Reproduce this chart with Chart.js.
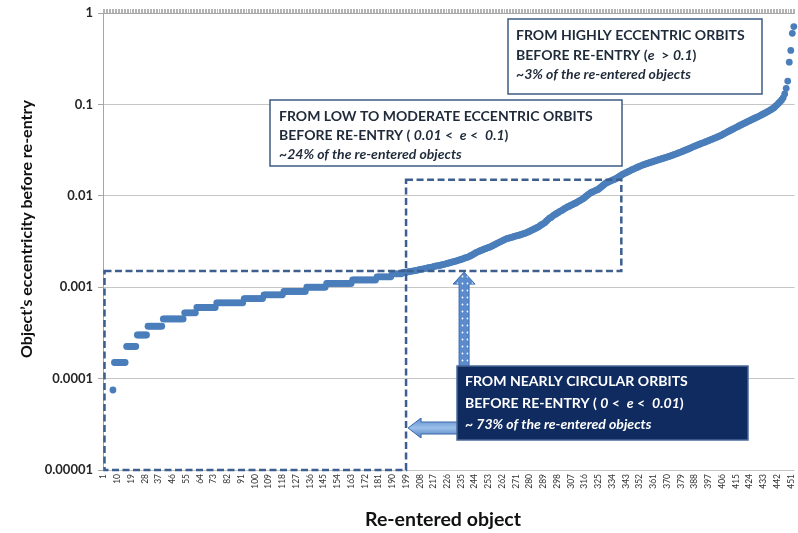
<!DOCTYPE html>
<html>
<head>
<meta charset="utf-8">
<script src="https://cdn.jsdelivr.net/npm/chart.js@4.4.0/dist/chart.umd.min.js"></script>
<style>
  html, body { margin: 0; padding: 0; background: #ffffff; }
  #wrap { width: 798px; height: 533px; }
</style>
</head>
<body>
<div id="wrap"><canvas id="chart" width="798" height="533"></canvas></div>
<script>
// Re-entered objects, sorted by eccentricity before re-entry
const objectCount = 453;
const labelStep = 9;
const objectNumbers = Array.from({ length: objectCount }, (_, i) => String(i + 1));

const yTickValues = [0.00001, 0.0001, 0.001, 0.01, 0.1, 1];
const yTickLabels = ['0.00001', '0.0001', '0.001', '0.01', '0.1', '1'];

// objects 1-317 : e < 0.01 (first six are exactly circular, not shown on a log axis)
const eccNearlyCircular = [
  null, null, null, null, null, null,
  0.000075,
  0.00015, 0.00015, 0.00015, 0.00015, 0.00015, 0.00015, 0.00015, 0.00015,
  0.000225, 0.000225, 0.000225, 0.000225, 0.000225, 0.000225, 0.000225,
  0.0003, 0.0003, 0.0003, 0.0003, 0.0003, 0.0003, 0.0003,
  0.000375, 0.000375, 0.000375, 0.000375, 0.000375, 0.000375, 0.000375, 0.000375, 0.000375, 0.000375,
  0.00045, 0.00045, 0.00045, 0.00045, 0.00045, 0.00045, 0.00045, 0.00045, 0.00045, 0.00045, 0.00045, 0.00045, 0.00045, 0.00045,
  0.000525, 0.000525, 0.000525, 0.000525, 0.000525, 0.000525, 0.000525, 0.000525,
  0.0006, 0.0006, 0.0006, 0.0006, 0.0006, 0.0006, 0.0006, 0.0006, 0.0006, 0.0006, 0.0006, 0.0006, 0.0006,
  0.000675, 0.000675, 0.000675, 0.000675, 0.000675, 0.000675, 0.000675, 0.000675, 0.000675,
  0.000675, 0.000675, 0.000675, 0.000675, 0.000675, 0.000675, 0.000675, 0.000675, 0.000675,
  0.00075, 0.00075, 0.00075, 0.00075, 0.00075, 0.00075, 0.00075, 0.00075, 0.00075, 0.00075, 0.00075, 0.00075, 0.00075,
  0.000825, 0.000825, 0.000825, 0.000825, 0.000825, 0.000825, 0.000825, 0.000825, 0.000825, 0.000825, 0.000825, 0.000825, 0.000825,
  0.0009, 0.0009, 0.0009, 0.0009, 0.0009, 0.0009, 0.0009, 0.0009, 0.0009, 0.0009, 0.0009, 0.0009, 0.0009, 0.0009, 0.0009,
  0.001, 0.001, 0.001, 0.001, 0.001, 0.001, 0.001, 0.001, 0.001, 0.001, 0.001, 0.001, 0.001,
  0.0011, 0.0011, 0.0011, 0.0011, 0.0011, 0.0011, 0.0011, 0.0011, 0.0011, 0.0011, 0.0011, 0.0011, 0.0011, 0.0011, 0.0011, 0.0011, 0.0011,
  0.0012, 0.0012, 0.0012, 0.0012, 0.0012, 0.0012, 0.0012, 0.0012, 0.0012, 0.0012, 0.0012, 0.0012, 0.0012, 0.0012, 0.0012, 0.0012,
  0.0013, 0.0013, 0.0013, 0.0013, 0.0013, 0.0013, 0.0013, 0.0013, 0.0013, 0.0013,
  0.0014, 0.0014, 0.0014, 0.0014, 0.0014, 0.0014, 0.0014,
  0.00145, 0.00146, 0.00146,
  0.00147, 0.00148, 0.00149, 0.0015, 0.00151, 0.00152, 0.00153, 0.00155, 0.00156, 0.00158,
  0.00158, 0.0016, 0.00161, 0.00163, 0.00164, 0.00165, 0.00166, 0.00168, 0.0017, 0.00171,
  0.00172, 0.00173, 0.00175, 0.00177, 0.00178, 0.0018, 0.00182, 0.00184, 0.00186, 0.00188,
  0.0019, 0.00192, 0.00194, 0.00197, 0.00199, 0.00201, 0.00204, 0.00207, 0.0021, 0.00212,
  0.00215, 0.0022, 0.00224, 0.00229, 0.00234, 0.0024, 0.00244, 0.00248, 0.00252, 0.00256,
  0.0026, 0.00264, 0.00268, 0.00272, 0.00276, 0.0028, 0.00286, 0.00292, 0.00298, 0.00304,
  0.0031, 0.00316, 0.00322, 0.00328, 0.00334, 0.0034, 0.00343, 0.00347, 0.0035, 0.00355,
  0.0036, 0.00363, 0.00367, 0.0037, 0.00375, 0.0038, 0.00385, 0.0039, 0.00396, 0.00403,
  0.0041, 0.00418, 0.00426, 0.00434, 0.00442, 0.0045, 0.00461, 0.00473, 0.00485, 0.00497,
  0.0051, 0.0053, 0.0055, 0.0057, 0.0058, 0.006, 0.0062, 0.0063, 0.0065, 0.0066,
  0.0068, 0.0069, 0.0071, 0.0073, 0.0074, 0.0076, 0.0077, 0.0079, 0.008, 0.0082,
  0.0083, 0.0085, 0.0087, 0.0089, 0.0091, 0.0093, 0.0096, 0.0099
];

// objects 318-442 : 0.01 < e < 0.1
const eccModerate = [
  0.0102, 0.0105,
  0.0108, 0.011, 0.0112, 0.0114, 0.0116, 0.0118, 0.0122, 0.0126, 0.013, 0.0134,
  0.0138, 0.014, 0.0143, 0.0145, 0.0148, 0.015, 0.0153, 0.0156, 0.016, 0.0164,
  0.0168, 0.0172, 0.0175, 0.0179, 0.0182, 0.0186, 0.0189, 0.0193, 0.0196, 0.02,
  0.0203, 0.0207, 0.021, 0.0214, 0.0217, 0.022, 0.0223, 0.0226, 0.0229, 0.0232,
  0.0235, 0.0238, 0.0241, 0.0244, 0.0247, 0.025, 0.0253, 0.0256, 0.0259, 0.0262,
  0.0265, 0.0269, 0.0272, 0.0276, 0.028, 0.0284, 0.0288, 0.0292, 0.0297, 0.0301,
  0.0306, 0.0311, 0.0316, 0.0321, 0.0326, 0.0332, 0.0337, 0.0343, 0.0349, 0.0354,
  0.036, 0.0366, 0.0371, 0.0377, 0.0382, 0.0388, 0.0394, 0.04, 0.0407, 0.0413,
  0.042, 0.0427, 0.0434, 0.0441, 0.0448, 0.0455, 0.0465, 0.0475, 0.0485, 0.0495,
  0.0505, 0.0515, 0.0526, 0.0536, 0.0547, 0.0558, 0.0569, 0.058, 0.0592, 0.0603,
  0.0615, 0.0627, 0.0639, 0.0651, 0.0663, 0.0675, 0.0688, 0.0701, 0.0714, 0.0727,
  0.074, 0.0755, 0.077, 0.0786, 0.0802, 0.082, 0.0838, 0.0857, 0.0876, 0.0897,
  0.092, 0.0955, 0.099
];

// objects 443-453 : e > 0.1
const eccHigh = [0.103, 0.107, 0.112, 0.118, 0.13, 0.15, 0.18, 0.29, 0.39, 0.6, 0.71];

const eccentricity = [...eccNearlyCircular, ...eccModerate, ...eccHigh];

const FONT = 'Lato, "Open Sans", sans-serif';
const BOX_BORDER = '#3d5b84';
const DASH_COLOR = '#3d5f8f';
const TEXT_DARK = '#1f2b3a';

function fontFor(style, size) { return `${style} ${size}px ${FONT}`; }

function fitSize(ctx, text, style, target) {
  ctx.font = fontFor(style, 20);
  return 20 * target / ctx.measureText(text).width;
}

// draw one line made of upright / italic runs, all bold
function drawRuns(ctx, runs, x, y, size, color) {
  ctx.fillStyle = color;
  ctx.textBaseline = 'middle';
  ctx.textAlign = 'left';
  let cx = x;
  runs.forEach(([text, italic]) => {
    ctx.font = fontFor(italic ? 'italic bold' : 'bold', size);
    ctx.fillText(text, cx, y);
    cx += ctx.measureText(text).width;
  });
}

function textBox(ctx, box, lines, fill, border, color, fitText, fitWidth) {
  ctx.save();
  ctx.fillStyle = fill;
  ctx.fillRect(box.x, box.y, box.w, box.h);
  ctx.strokeStyle = border;
  ctx.lineWidth = 1.5;
  ctx.strokeRect(box.x, box.y, box.w, box.h);
  const size = fitSize(ctx, fitText, 'bold', fitWidth);
  lines.forEach((ln) => drawRuns(ctx, ln.runs, box.tx, ln.y, size, color));
  ctx.restore();
}

function dottedPattern(ctx) {
  const c = document.createElement('canvas');
  c.width = 5; c.height = 7;
  const p = c.getContext('2d');
  p.fillStyle = '#5a8bcc';
  p.fillRect(0, 0, 5, 7);
  p.fillStyle = '#ffffff';
  p.beginPath();
  p.arc(2.5, 3.5, 0.9, 0, Math.PI * 2);
  p.fill();
  return ctx.createPattern(c, 'repeat');
}

const annotationPlugin = {
  id: 'eccentricityBands',
  afterDatasetsDraw(chart) {
    const { ctx, chartArea: a, scales: { x, y } } = chart;
    const catX = (n) => x.getPixelForValue(n - 1);

    ctx.save();
    // dashed outlines of the e < 0.01 and 0.01 < e < 0.1 regions
    ctx.strokeStyle = DASH_COLOR;
    ctx.lineWidth = 2.5;
    ctx.setLineDash([7, 3.5]);
    const r1 = { l: a.left + 1.5, r: catX(199), t: y.getPixelForValue(0.0015), b: a.bottom };
    ctx.strokeRect(r1.l, r1.t, r1.r - r1.l, r1.b - r1.t);
    const r2 = { l: catX(199), r: catX(340), t: y.getPixelForValue(0.015), b: y.getPixelForValue(0.0015) };
    ctx.strokeRect(r2.l, r2.t, r2.r - r2.l, r2.b - r2.t);
    ctx.setLineDash([]);

    // upward arrow from the circular-orbit note to the moderate region
    const ax = catX(237);
    const tipY = r2.b + 1;
    const tailY = 366;
    ctx.beginPath();
    ctx.moveTo(ax, tipY);
    ctx.lineTo(ax + 11, tipY + 12);
    ctx.lineTo(ax + 5, tipY + 12);
    ctx.lineTo(ax + 5, tailY);
    ctx.lineTo(ax - 5, tailY);
    ctx.lineTo(ax - 5, tipY + 12);
    ctx.lineTo(ax - 11, tipY + 12);
    ctx.closePath();
    ctx.fillStyle = dottedPattern(ctx);
    ctx.fill();
    ctx.strokeStyle = '#3e6db0';
    ctx.lineWidth = 1;
    ctx.stroke();

    // leftward arrow to the circular-orbit region
    const lx = r1.r + 2;
    const ly = 428;
    const grad = ctx.createLinearGradient(0, ly - 10, 0, ly + 10);
    grad.addColorStop(0, '#5b8bcf');
    grad.addColorStop(0.5, '#9cc0ea');
    grad.addColorStop(1, '#4a7bbf');
    ctx.beginPath();
    ctx.moveTo(lx, ly);
    ctx.lineTo(lx + 13, ly - 10);
    ctx.lineTo(lx + 13, ly - 6);
    ctx.lineTo(458, ly - 6);
    ctx.lineTo(458, ly + 6);
    ctx.lineTo(lx + 13, ly + 6);
    ctx.lineTo(lx + 13, ly + 10);
    ctx.closePath();
    ctx.fillStyle = grad;
    ctx.fill();
    ctx.strokeStyle = '#3a68a8';
    ctx.stroke();
    ctx.restore();

    // notes
    textBox(ctx, { x: 508, y: 19, w: 254, h: 75, tx: 516 }, [
      { y: 35, runs: [['FROM HIGHLY ECCENTRIC ORBITS', false]] },
      { y: 55, runs: [['BEFORE RE-ENTRY (', false], ['e', true], ['  > ', false], ['0.1', true], [')', false]] },
      { y: 74, runs: [['~3% of the re-entered objects', true]] }
    ], '#ffffff', BOX_BORDER, TEXT_DARK, 'FROM HIGHLY ECCENTRIC ORBITS', 229);

    textBox(ctx, { x: 270, y: 100, w: 352, h: 66, tx: 279 }, [
      { y: 116, runs: [['FROM LOW TO MODERATE ECCENTRIC ORBITS', false]] },
      { y: 135, runs: [['BEFORE RE-ENTRY ( ', false], ['0.01', true], [' <  ', false], ['e', true], [' <  ', false], ['0.1', true], [')', false]] },
      { y: 154, runs: [['~24% of the re-entered objects', true]] }
    ], '#ffffff', BOX_BORDER, TEXT_DARK, 'FROM LOW TO MODERATE ECCENTRIC ORBITS', 314);

    textBox(ctx, { x: 457, y: 366, w: 291, h: 74, tx: 465 }, [
      { y: 381, runs: [['FROM NEARLY CIRCULAR ORBITS', false]] },
      { y: 403, runs: [['BEFORE RE-ENTRY ( ', false], ['0', true], [' <  ', false], ['e', true], [' <  ', false], ['0.01', true], [')', false]] },
      { y: 424, runs: [['~ 73% of the re-entered objects', true]] }
    ], '#0f2b5f', '#4a6a98', '#ffffff', 'FROM NEARLY CIRCULAR ORBITS', 223);
  }
};

const axisTitlePlugin = {
  id: 'axisTitles',
  afterDraw(chart) {
    const { ctx } = chart;
    ctx.save();
    ctx.fillStyle = '#111111';
    ctx.textAlign = 'center';
    ctx.textBaseline = 'middle';
    const yt = 'Object\u2019s eccentricity before re-entry';
    ctx.font = fontFor('bold', fitSize(ctx, yt, 'bold', 258));
    ctx.translate(27, 229);
    ctx.rotate(-Math.PI / 2);
    ctx.fillText(yt, 0, 0);
    ctx.restore();

    ctx.save();
    ctx.fillStyle = '#111111';
    ctx.textAlign = 'center';
    ctx.textBaseline = 'middle';
    const xt = 'Re-entered object';
    ctx.font = fontFor('bold', fitSize(ctx, xt, 'bold', 156));
    ctx.fillText(xt, 443, 520);
    ctx.restore();
  }
};

// keep the horizontal axes flush with the plot edges
function flushHorizontal(scale, height) {
  scale.height = height;
  scale.paddingLeft = 0;
  scale.paddingRight = 0;
}

new Chart(document.getElementById('chart'), {
  type: 'line',
  data: {
    labels: objectNumbers,
    datasets: [{
      data: eccentricity,
      showLine: false,
      pointRadius: 3.4,
      pointHoverRadius: 3.4,
      pointBorderWidth: 0,
      pointBackgroundColor: '#4a7ebb',
      pointBorderColor: '#4a7ebb'
    }]
  },
  options: {
    responsive: false,
    animation: false,
    devicePixelRatio: 1,
    layout: { padding: { top: 0, right: 1, left: 0, bottom: 0 } },
    plugins: { legend: { display: false }, tooltip: { enabled: false } },
    scales: {
      x: {
        type: 'category',
        offset: true,
        grid: { display: false, drawTicks: false },
        border: { display: false },
        ticks: {
          autoSkip: false,
          minRotation: 90,
          maxRotation: 90,
          padding: 4,
          color: '#333333',
          font: { family: FONT, size: 8.5 },
          callback(value, index) {
            return index % labelStep === 0 ? this.getLabelForValue(value) : '';
          }
        },
        afterFit(scale) { flushHorizontal(scale, 63); }
      },
      xTop: {
        type: 'category',
        position: 'top',
        offset: true,
        grid: { display: true, offset: true, drawOnChartArea: false, drawTicks: true, tickLength: 4, color: '#b4b4b4' },
        border: { display: true, color: '#a6a6a6' },
        ticks: { display: false },
        afterFit(scale) { flushHorizontal(scale, 13); }
      },
      y: {
        type: 'logarithmic',
        min: 0.00001,
        max: 1,
        afterBuildTicks(scale) { scale.ticks = yTickValues.map((v) => ({ value: v })); },
        ticks: {
          autoSkip: false,
          padding: 5,
          color: '#262626',
          font: { family: FONT, size: 13, weight: 'bold' },
          callback(value) { return yTickLabels[yTickValues.indexOf(value)]; }
        },
        grid: { color: '#c6c6c6', lineWidth: 1, drawTicks: true, tickLength: 5, tickColor: '#a6a6a6' },
        border: { display: true, color: '#a6a6a6' },
        afterFit(scale) { scale.width = 103; }
      }
    }
  },
  plugins: [annotationPlugin, axisTitlePlugin]
});
</script>
</body>
</html>
